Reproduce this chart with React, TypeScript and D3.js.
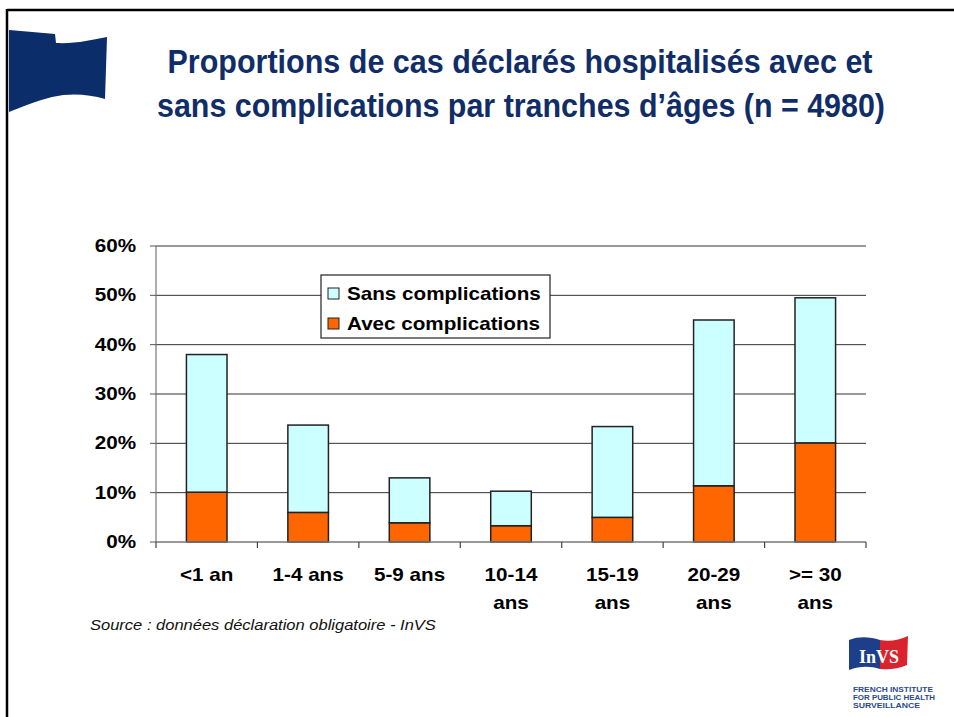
import React from "react";
import * as d3 from "d3";

const categories = ["<1 an", "1-4 ans", "5-9 ans", "10-14 ans", "15-19 ans", "20-29 ans", ">= 30 ans"];
const categoryLines = [["<1 an"], ["1-4 ans"], ["5-9 ans"], ["10-14", "ans"], ["15-19", "ans"], ["20-29", "ans"], [">= 30", "ans"]];
const avecComplications = [10.1, 6.0, 3.9, 3.3, 5.0, 11.4, 20.1];
const sansComplications = [27.9, 17.7, 9.1, 7.0, 18.4, 33.6, 29.4];
const yTicks = [0, 10, 20, 30, 40, 50, 60];
const seriesNames = ["Sans complications", "Avec complications"];
const seriesColors = ["#ccffff", "#ff6600"];

const W = 954, H = 717;
const plot = { left: 156, right: 866, top: 246, bottom: 542 };
const SX = 1.18;

function T(props: { x: number; y: number; anchor?: string; size: number; bold?: boolean; italic?: boolean; fill?: string; sx?: number; dy?: string; children: React.ReactNode }) {
  const { x, y, anchor = "start", size, bold, italic, fill = "#000", sx = SX, dy, children } = props;
  return (
    <text transform={`translate(${x},${y}) scale(${sx},1)`} textAnchor={anchor} fontSize={size}
      fontWeight={bold ? "bold" : "normal"} fontStyle={italic ? "italic" : "normal"} fill={fill} dy={dy}>
      {children}
    </text>
  );
}

export default function App() {
  const x = d3.scaleBand<string>().domain(categories).range([plot.left, plot.right]).paddingInner(0.6).paddingOuter(0.3);
  const xEdge = d3.scaleLinear().domain([0, categories.length]).range([plot.left, plot.right]);
  const y = d3.scaleLinear().domain([0, 60]).range([plot.bottom, plot.top]);
  const stackData = categories.map((c, i) => ({ cat: c, avec: avecComplications[i], sans: sansComplications[i] }));
  const stack = d3.stack<any>().keys(["avec", "sans"])(stackData);
  const colorFor: Record<string, string> = { avec: seriesColors[1], sans: seriesColors[0] };
  const titleColor = "#102d68";
  const flagPath = "M9,30 C25,31 40,33 55,34 L56,43 C75,44 92,40 107,37 L105,99 C88,94 70,93 52,97 C35,101 20,108 9,112 Z";

  return (
    <svg width={W} height={H} style={{ position: "absolute", left: 0, top: 0, background: "#fff" }} fontFamily="Liberation Sans, Arial, sans-serif">
      <rect x={0} y={0} width={W} height={H} fill="#fff" />
      {/* frame */}
      <line x1={7} x2={W} y1={10} y2={10} stroke="#000" strokeWidth={2.5} />
      <line x1={7} x2={7} y1={9} y2={H} stroke="#000" strokeWidth={2.5} />
      {/* flag */}
      <path d={flagPath} fill="#0b2d6a" />
      {/* title */}
      <g fill={titleColor} fontWeight="bold" fontSize={33} fontFamily="Liberation Sans Narrow, Arial Narrow, Liberation Sans, sans-serif" textAnchor="middle">
        <text x={520} y={73} textLength={705} lengthAdjust="spacingAndGlyphs">Proportions de cas déclarés hospitalisés avec et</text>
        <text x={521} y={117} textLength={728} lengthAdjust="spacingAndGlyphs">sans complications par tranches d’âges (n = 4980)</text>
      </g>
      {/* gridlines */}
      {yTicks.filter(t => t > 0).map(t => (
        <line key={t} x1={plot.left} x2={plot.right} y1={y(t)} y2={y(t)} stroke="#333" strokeWidth={1} />
      ))}
      {/* y axis */}
      <line x1={plot.left} x2={plot.left} y1={plot.top} y2={plot.bottom} stroke="#777" strokeWidth={1.2} />
      {yTicks.map(t => (
        <g key={t}>
          <line x1={plot.left - 6} x2={plot.left} y1={y(t)} y2={y(t)} stroke="#555" />
          <T x={136} y={y(t)} dy="0.35em" anchor="end" bold size={17.5}>{t}%</T>
        </g>
      ))}
      {/* bars */}
      {stack.map(layer => (
        <g key={layer.key}>
          {layer.map((d, i) => (
            <rect key={i} x={x(categories[i])!} width={x.bandwidth()} y={y(d[1])} height={y(d[0]) - y(d[1])}
              fill={colorFor[layer.key]} stroke="#222" strokeWidth={1.5} />
          ))}
        </g>
      ))}
      {/* x axis */}
      <line x1={plot.left} x2={plot.right} y1={plot.bottom} y2={plot.bottom} stroke="#777" strokeWidth={1.5} />
      {d3.range(categories.length + 1).map(i => (
        <line key={i} x1={xEdge(i)} x2={xEdge(i)} y1={plot.bottom} y2={plot.bottom + 6} stroke="#444" strokeWidth={1.2} />
      ))}
      {categoryLines.map((lines, i) => (
        <g key={i}>
          {lines.map((l, j) => (
            <T key={j} x={x(categories[i])! + x.bandwidth() / 2} y={581 + j * 28} anchor="middle" bold size={17.5}>{l}</T>
          ))}
        </g>
      ))}
      {/* legend */}
      <g>
        <rect x={321} y={275} width={229} height={63} fill="#fff" stroke="#222" strokeWidth={1.2} />
        {seriesNames.map((n, i) => (
          <g key={n}>
            <rect x={328} y={288 + i * 30} width={11} height={11} fill={seriesColors[i]} stroke="#222" strokeWidth={1} />
            <T x={347} y={300 + i * 30} bold size={17.5}>{n}</T>
          </g>
        ))}
      </g>
      {/* source */}
      <T x={90} y={630} italic size={14} fill="#111">Source : données déclaration obligatoire - InVS</T>
      {/* logo */}
      <g>
        <path d="M849,640 C860,636 870,637 880,640 L880,669 C870,666 860,666 849,670 Z" fill="#1d3f8a" />
        <path d="M880,640 C890,642 899,640 908,636 L907,665 C898,669 889,670 880,669 Z" fill="#d9232e" />
        <text x={879} y={663} textAnchor="middle" fill="#fff" fontFamily="Liberation Serif, serif" fontWeight="bold" fontSize={18}>InVS</text>
        <g fill="#2b4a8c" fontWeight="bold" fontSize={8}>
          <text x={853} y={692} textLength={80} lengthAdjust="spacingAndGlyphs">FRENCH INSTITUTE</text>
          <text x={853} y={700} textLength={82} lengthAdjust="spacingAndGlyphs">FOR PUBLIC HEALTH</text>
          <text x={853} y={708} textLength={67} lengthAdjust="spacingAndGlyphs">SURVEILLANCE</text>
        </g>
      </g>
    </svg>
  );
}
